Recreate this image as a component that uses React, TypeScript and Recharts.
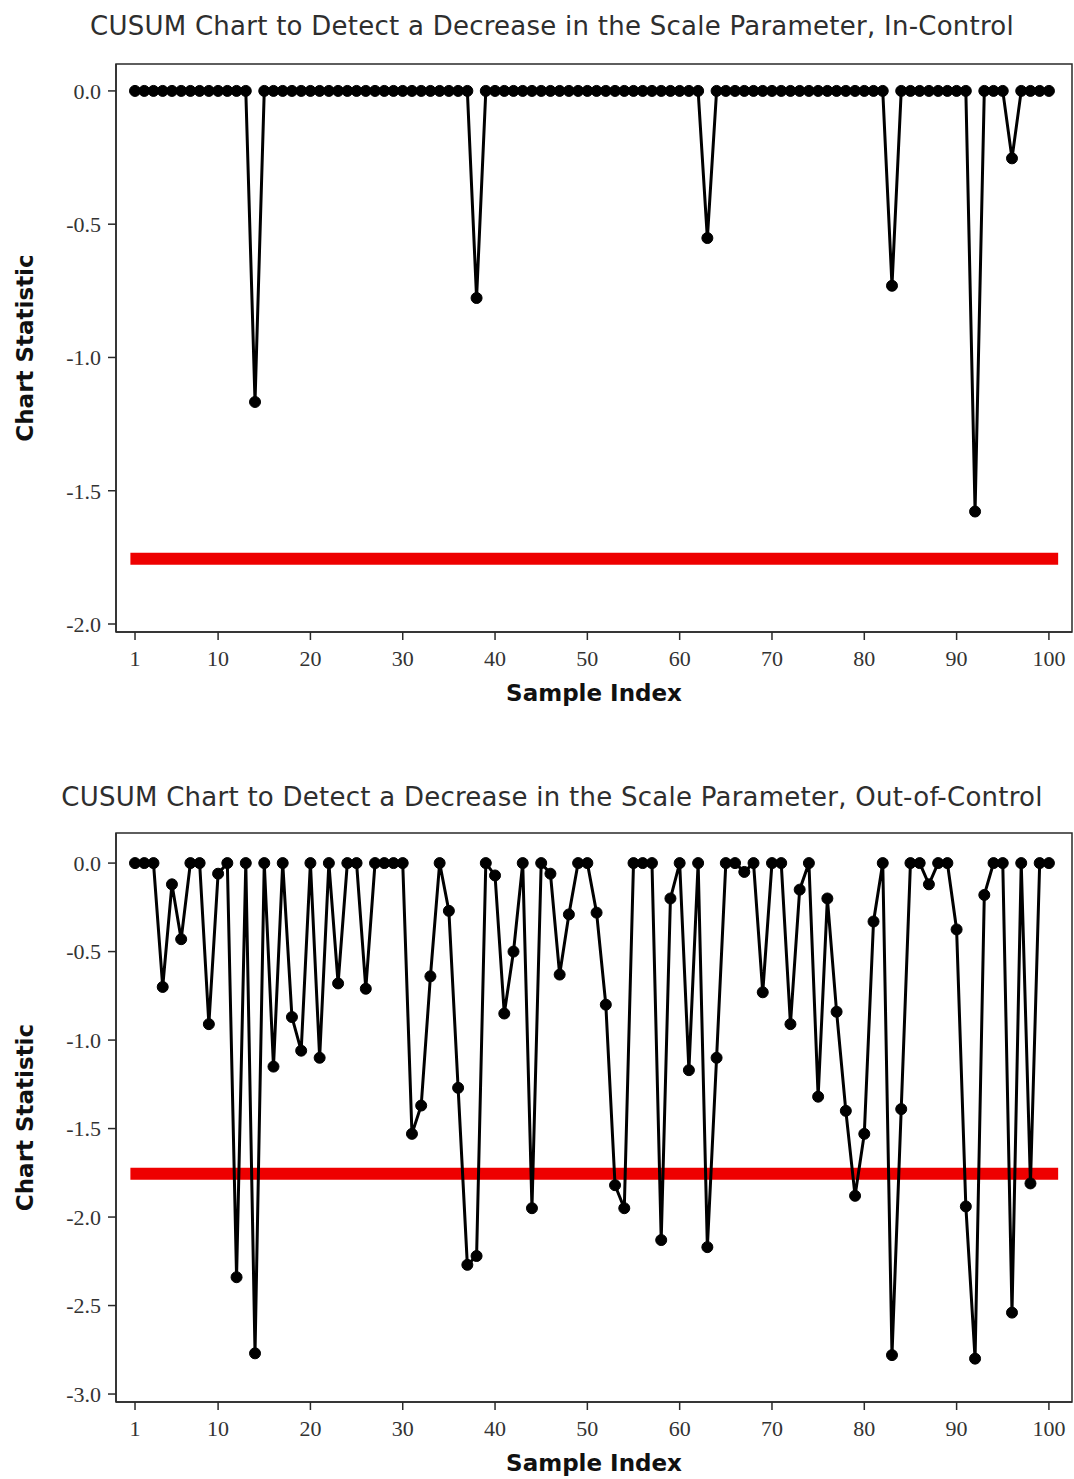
import React from 'react';
import { LineChart, Line, XAxis, YAxis, ReferenceArea } from 'recharts';

// ---- data ----
const inControlStat: number[] = [
  0, 0, 0, 0, 0, 0, 0, 0, 0, 0,
  0, 0, 0, -1.167, 0, 0, 0, 0, 0, 0,
  0, 0, 0, 0, 0, 0, 0, 0, 0, 0,
  0, 0, 0, 0, 0, 0, 0, -0.777, 0, 0,
  0, 0, 0, 0, 0, 0, 0, 0, 0, 0,
  0, 0, 0, 0, 0, 0, 0, 0, 0, 0,
  0, 0, -0.552, 0, 0, 0, 0, 0, 0, 0,
  0, 0, 0, 0, 0, 0, 0, 0, 0, 0,
  0, 0, -0.731, 0, 0, 0, 0, 0, 0, 0,
  0, -1.578, 0, 0, 0, -0.253, 0, 0, 0, 0,
];

const outOfControlStat: number[] = [
  0, 0, 0, -0.70, -0.12, -0.43, 0, 0, -0.91, -0.06,
  0, -2.34, 0, -2.77, 0, -1.15, 0, -0.87, -1.06, 0,
  -1.10, 0, -0.68, 0, 0, -0.71, 0, 0, 0, 0,
  -1.53, -1.37, -0.64, 0, -0.27, -1.27, -2.27, -2.22, 0, -0.07,
  -0.85, -0.50, 0, -1.95, 0, -0.06, -0.63, -0.29, 0, 0,
  -0.28, -0.80, -1.82, -1.95, 0, 0, 0, -2.13, -0.20, 0,
  -1.17, 0, -2.17, -1.10, 0, 0, -0.05, 0, -0.73, 0,
  0, -0.91, -0.15, 0, -1.32, -0.20, -0.84, -1.40, -1.88, -1.53,
  -0.33, 0, -2.78, -1.39, 0, 0, -0.12, 0, 0, -0.375,
  -1.94, -2.80, -0.18, 0, 0, -2.54, 0, -1.81, 0, 0,
];

const xTicks = [1, 10, 20, 30, 40, 50, 60, 70, 80, 90, 100];
const yTicksIn = [0, -0.5, -1.0, -1.5, -2.0];
const yTicksOut = [0, -0.5, -1.0, -1.5, -2.0, -2.5, -3.0];
const decisionLimit = -1.755;
const limitSpan = [0.5, 101];
const xDomain: [number, number] = [-1.06, 102.5];

const titleIn = 'CUSUM Chart to Detect a Decrease in the Scale Parameter, In-Control';
const titleOut = 'CUSUM Chart to Detect a Decrease in the Scale Parameter, Out-of-Control';

const makeRows = (vals: number[]) => vals.map((v, i) => ({ x: i + 1, y: v }));
const limitRows = limitSpan.map((x) => ({ x, y: decisionLimit }));

const AXIS = '#2a2a2a';
const tickStyle = { fontFamily: '"Liberation Serif", serif', fontSize: 22, fill: '#333' };
const axisLabelStyle: React.CSSProperties = {
  fontFamily: '"DejaVu Sans", sans-serif',
  fontWeight: 'bold',
  fontSize: 23,
  fill: '#111',
};

const fmt = (v: number) => v.toFixed(1);

function Panel(props: {
  title: string;
  titleTop: number;
  top: number;
  height: number;
  marginTop: number;
  xAxisHeight: number;
  stat: number[];
  yTicks: number[];
  yDomain: [number, number];
}) {
  const { title, titleTop, top, height, marginTop, xAxisHeight, stat, yTicks, yDomain } = props;
  const rows = makeRows(stat);
  return (
    <>
      <div
        style={{
          position: 'absolute',
          left: 0,
          top: titleTop,
          width: 1104,
          textAlign: 'center',
          fontFamily: '"DejaVu Sans", sans-serif',
          fontSize: 26,
          letterSpacing: 0.25,
          lineHeight: '30px',
          color: '#2e2e2e',
          whiteSpace: 'nowrap',
        }}
      >
        {title}
      </div>
      <div style={{ position: 'absolute', left: 0, top }}>
        <LineChart
          width={1074}
          height={height}
          margin={{ top: marginTop, right: 2, bottom: 0, left: 0 }}
        >
          <XAxis
            type="number"
            dataKey="x"
            domain={xDomain}
            allowDataOverflow
            ticks={xTicks}
            interval={0}
            height={xAxisHeight}
            stroke={AXIS}
            strokeWidth={1.5}
            tickSize={8}
            tickMargin={10}
            tick={tickStyle}
            label={(lp: any) => {
              const vb = lp.viewBox || {};
              return (
                <text
                  x={vb.x + vb.width / 2}
                  y={vb.y + 61}
                  textAnchor="middle"
                  dominantBaseline="central"
                  style={axisLabelStyle}
                >
                  Sample Index
                </text>
              );
            }}
          />
          <YAxis
            type="number"
            domain={yDomain}
            allowDataOverflow
            ticks={yTicks}
            interval={0}
            width={116}
            tickFormatter={fmt}
            stroke={AXIS}
            strokeWidth={1.5}
            tickSize={8}
            tickMargin={7}
            tick={tickStyle}
            label={(lp: any) => {
              const vb = lp.viewBox || {};
              const cx = 25;
              const cy = vb.y + vb.height / 2;
              return (
                <text
                  x={cx}
                  y={cy}
                  transform={`rotate(-90, ${cx}, ${cy})`}
                  textAnchor="middle"
                  dominantBaseline="central"
                  style={axisLabelStyle}
                >
                  Chart Statistic
                </text>
              );
            }}
          />
          <ReferenceArea
            x1={xDomain[0]}
            x2={xDomain[1]}
            y1={yDomain[0]}
            y2={yDomain[1]}
            fill="none"
            fillOpacity={0}
            stroke={AXIS}
            strokeWidth={1.5}
            ifOverflow="visible"
          />
          <Line
            data={limitRows}
            dataKey="y"
            stroke="#ee0000"
            strokeWidth={12}
            strokeLinecap="butt"
            dot={false}
            activeDot={false}
            isAnimationActive={false}
          />
          <Line
            data={rows}
            dataKey="y"
            stroke="#000"
            strokeWidth={3}
            dot={{ r: 5.5, fill: '#000', stroke: '#000', strokeWidth: 1 }}
            activeDot={false}
            isAnimationActive={false}
          />
        </LineChart>
      </div>
    </>
  );
}

export default function App() {
  return (
    <div style={{ position: 'absolute', left: 0, top: 0, width: 1074, height: 1479, background: '#fff' }}>
      <Panel
        title={titleIn}
        titleTop={11}
        top={0}
        height={720}
        marginTop={64}
        xAxisHeight={88}
        stat={inControlStat}
        yTicks={yTicksIn}
        yDomain={[-2.03, 0.101]}
      />
      <Panel
        title={titleOut}
        titleTop={782}
        top={770}
        height={709}
        marginTop={63}
        xAxisHeight={77}
        stat={outOfControlStat}
        yTicks={yTicksOut}
        yDomain={[-3.045, 0.17]}
      />
    </div>
  );
}
